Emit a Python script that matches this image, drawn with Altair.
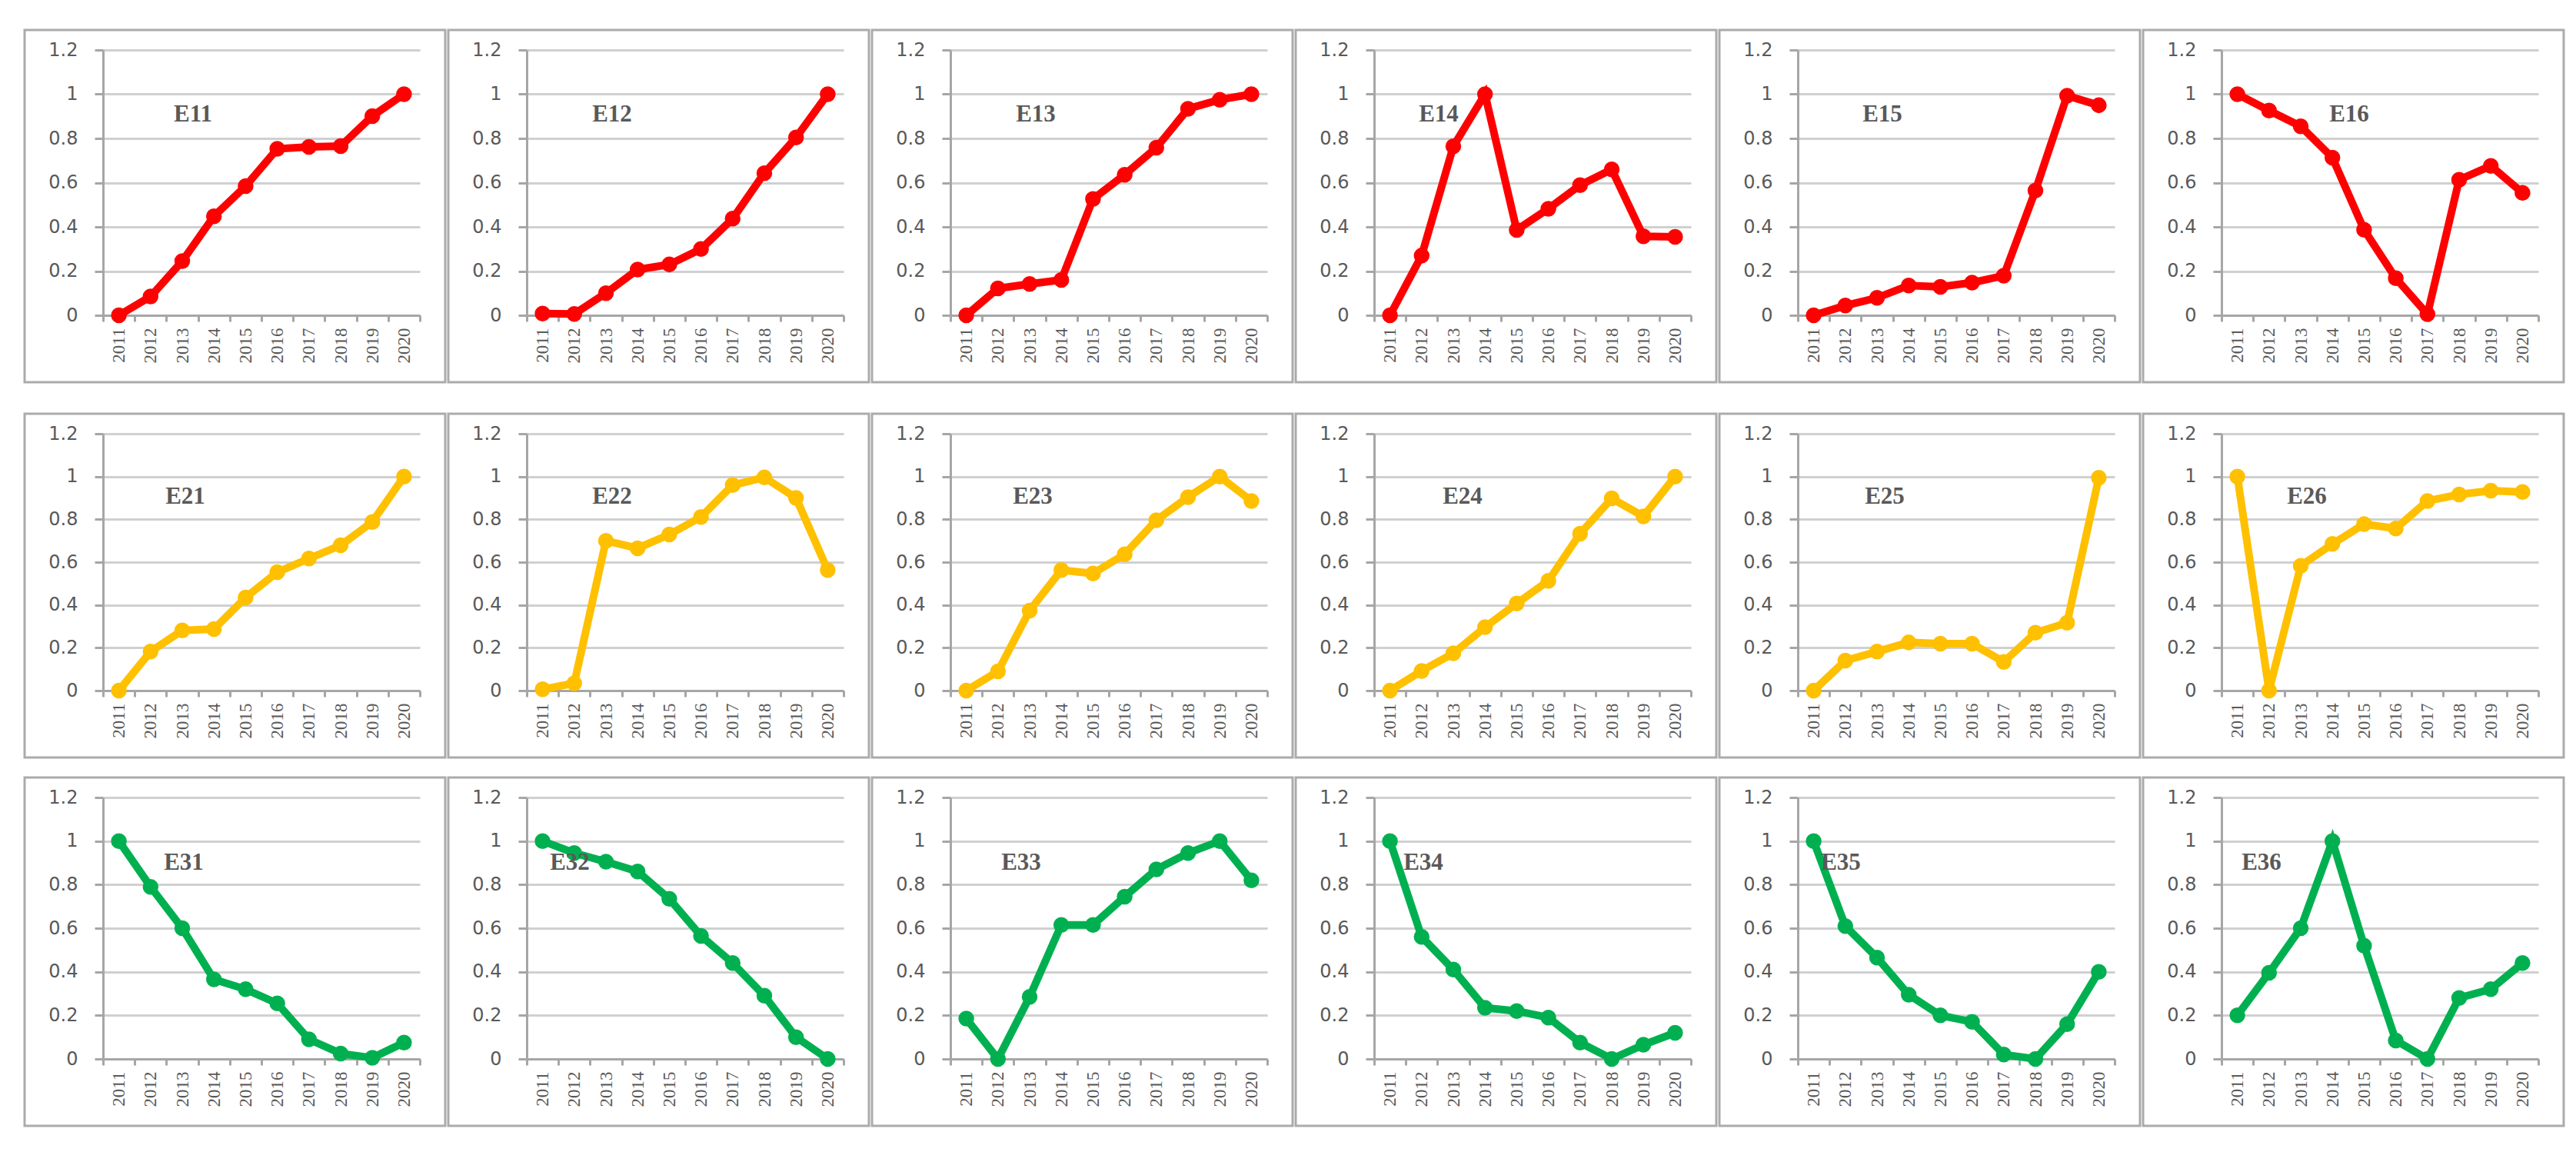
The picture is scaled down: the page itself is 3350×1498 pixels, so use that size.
import altair as alt
import pandas as pd

years = [str(y) for y in range(2011, 2021)]

# Row 1 (red)
E11 = [0.00, 0.085, 0.245, 0.448, 0.584, 0.753, 0.762, 0.765, 0.901, 1.00]
E12 = [0.008, 0.006, 0.10, 0.207, 0.23, 0.30, 0.437, 0.643, 0.804, 1.00]
E13 = [0.00, 0.122, 0.142, 0.16, 0.526, 0.636, 0.758, 0.934, 0.975, 1.00]
E14 = [0.00, 0.27, 0.764, 1.00, 0.386, 0.482, 0.589, 0.66, 0.357, 0.355]
E15 = [0.00, 0.044, 0.079, 0.135, 0.129, 0.148, 0.179, 0.564, 0.993, 0.95]
E16 = [1.00, 0.926, 0.855, 0.713, 0.387, 0.168, 0.005, 0.613, 0.676, 0.554]
# Row 2 (gold)
E21 = [0.00, 0.182, 0.281, 0.287, 0.435, 0.553, 0.617, 0.679, 0.788, 1.00]
E22 = [0.006, 0.034, 0.70, 0.665, 0.729, 0.811, 0.96, 0.996, 0.90, 0.563]
E23 = [0.00, 0.09, 0.374, 0.563, 0.547, 0.637, 0.796, 0.904, 1.00, 0.886]
E24 = [0.00, 0.092, 0.174, 0.296, 0.407, 0.513, 0.733, 0.898, 0.814, 1.00]
E25 = [0.00, 0.14, 0.182, 0.225, 0.219, 0.219, 0.134, 0.27, 0.317, 0.994]
E26 = [1.00, 0.00, 0.583, 0.685, 0.778, 0.757, 0.886, 0.916, 0.934, 0.928]
# Row 3 (green)
E31 = [1.00, 0.79, 0.60, 0.365, 0.32, 0.255, 0.09, 0.025, 0.005, 0.075]
E32 = [1.00, 0.945, 0.905, 0.86, 0.735, 0.565, 0.44, 0.29, 0.10, 0.00]
E33 = [0.185, 0.00, 0.285, 0.615, 0.615, 0.745, 0.87, 0.945, 1.00, 0.82]
E34 = [1.00, 0.56, 0.41, 0.235, 0.22, 0.19, 0.075, 0.00, 0.065, 0.12]
E35 = [1.00, 0.61, 0.465, 0.295, 0.20, 0.17, 0.02, 0.00, 0.16, 0.40]
E36 = [0.20, 0.395, 0.60, 1.00, 0.52, 0.085, 0.00, 0.28, 0.32, 0.44]

rows = [
    (["E11", "E12", "E13", "E14", "E15", "E16"], [E11, E12, E13, E14, E15, E16], "#FF0000"),
    (["E21", "E22", "E23", "E24", "E25", "E26"], [E21, E22, E23, E24, E25, E26], "#FFC000"),
    (["E31", "E32", "E33", "E34", "E35", "E36"], [E31, E32, E33, E34, E35, E36], "#00B050"),
]

# styling / layout (pixels)
PLOT_W = 412
PLOT_H = [345, 334, 340]
BOX_L, BOX_R, BOX_T, BOX_B = 102, 33, 26, 87
TITLE_X = [[117, 111, 111, 84, 110, 166],
           [107, 111, 107, 115, 113, 111],
           [105, 56, 92, 64, 56, 52]]
TITLE_Y = [84, 82, 85]
GREY_TXT = "#595959"
AXIS_COL = "#A6A6A6"
GRID_COL = "#D0D0D0"


def panel(name, vals, color, h, tx, ty):
    df = pd.DataFrame({"year": years, "value": vals})
    x = alt.X("year:O", scale=alt.Scale(type="band", paddingInner=0, paddingOuter=0),
              axis=alt.Axis(title=None, labelAngle=270, tickBand="extent", grid=False,
                            domainColor=AXIS_COL, domainWidth=3, tickColor=AXIS_COL, tickWidth=3,
                            tickSize=8, labelFont="Liberation Serif", labelFontSize=23,
                            labelColor=GREY_TXT, labelPadding=8))
    y = alt.Y("value:Q", scale=alt.Scale(domain=[0, 1.2], nice=False),
              axis=alt.Axis(title=None, values=[0, 0.2, 0.4, 0.6, 0.8, 1.0, 1.2], format=".1~f",
                            grid=True, gridColor=GRID_COL, gridWidth=3,
                            domainColor=AXIS_COL, domainWidth=3, tickColor=AXIS_COL, tickWidth=3,
                            tickSize=11, labelFont="DejaVu Sans", labelFontSize=24,
                            labelColor=GREY_TXT, labelPadding=22))
    base = alt.Chart(df)
    line = base.mark_line(color=color, strokeWidth=10).encode(x=x, y=y)
    pts = base.mark_circle(color=color, opacity=1, size=420).encode(x=x, y=y)
    lab = alt.Chart(pd.DataFrame({"t": [name]})).mark_text(
        font="Liberation Serif", fontWeight="bold", fontSize=31, color=GREY_TXT,
        align="center", baseline="middle").encode(text="t:N", x=alt.value(tx), y=alt.value(ty))
    box = alt.Chart(pd.DataFrame({"b": [0]})).mark_rect(
        fillOpacity=0, stroke="#ABABAB", strokeWidth=3).encode(
        x=alt.value(-BOX_L), x2=alt.value(PLOT_W + BOX_R),
        y=alt.value(-BOX_T), y2=alt.value(h + BOX_B))
    return alt.layer(box, line, pts, lab).properties(width=PLOT_W, height=h)


row_charts = []
for r, (names, series, color) in enumerate(rows):
    panels = [panel(n, v, color, PLOT_H[r], TITLE_X[r][i], TITLE_Y[r])
              for i, (n, v) in enumerate(zip(names, series))]
    row_charts.append(alt.hconcat(*panels, spacing=0))

chart = alt.vconcat(
    row_charts[0],
    alt.vconcat(row_charts[1], row_charts[2], spacing=22),
    spacing=37,
).properties(
    padding={"left": 22, "top": 29, "right": 0, "bottom": 0},
    background="white",
).configure_view(strokeWidth=0)

chart.save("out.html", embed_options={"renderer": "svg", "actions": False})
